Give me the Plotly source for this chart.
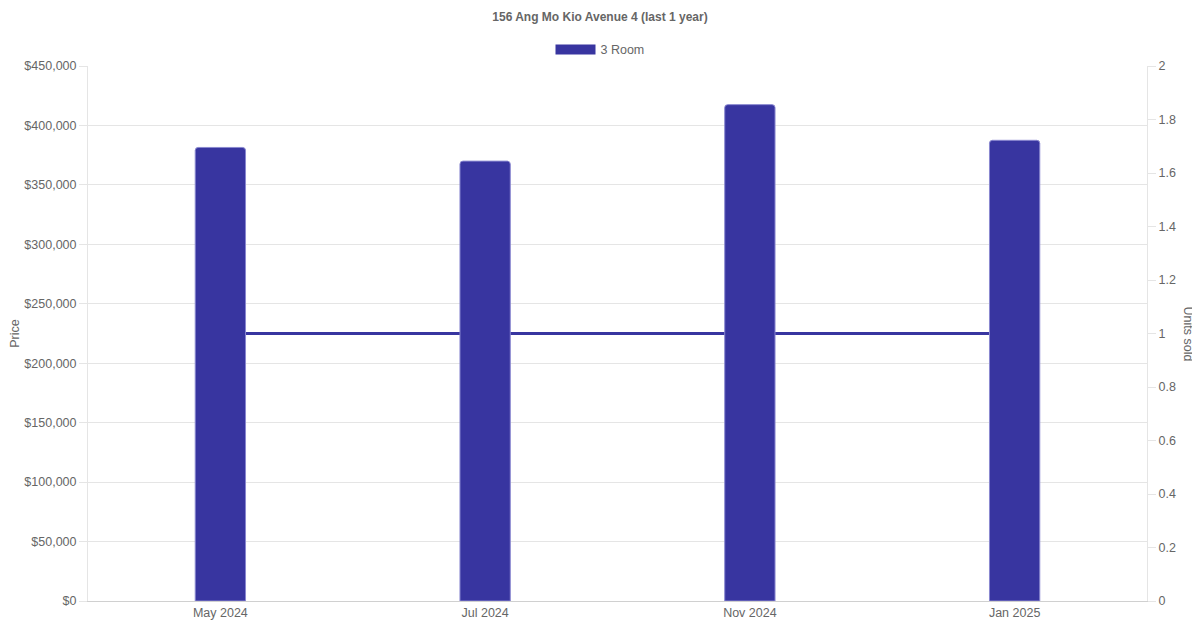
"""Bar + line chart: resale prices and units sold for a block"""
import plotly.graph_objs as go

# data
months = ['May 2024', 'Jul 2024', 'Nov 2024', 'Jan 2025']
prices = [381500, 370000, 417500, 387500]
units_sold = [1, 1, 1, 1]
price_ticks = list(range(0, 450001, 50000))
price_labels = ['$' + format(v, ',') for v in price_ticks]
unit_ticks = [0, 0.2, 0.4, 0.6, 0.8, 1, 1.2, 1.4, 1.6, 1.8, 2]
unit_labels = ['0', '0.2', '0.4', '0.6', '0.8', '1', '1.2', '1.4', '1.6', '1.8', '2']

purple = '#3835a0'
grey = '#666666'
grid = '#e5e5e5'

# page body has an 8px margin, so the figure is 8px smaller and margins shifted
W, H = 1192, 622
center_x = (592 - 80) / (W - 80 - 53)

# units sold line sits on the base axis so bars (overlay axis) draw on top
line = go.Scatter(x=months, y=units_sold, mode='lines', yaxis='y',
                  line=dict(color=purple, width=3), showlegend=False,
                  hoverinfo='skip')

bars = go.Bar(x=months, y=prices, yaxis='y2', width=0.19,
              marker=dict(color=purple, line=dict(color='#8a88d0', width=1)),
              showlegend=False)

# legend entry drawn as a wide swatch
legend_item = go.Scatter(x=[None], y=[None], mode='lines', name='3 Room',
                         line=dict(color=purple, width=12))

layout = go.Layout(
    width=W, height=H,
    paper_bgcolor='white', plot_bgcolor='white',
    font=dict(family='Liberation Sans, Arial, sans-serif', size=12, color=grey),
    title=dict(text='<b>156 Ang Mo Kio Avenue 4 (last 1 year)</b>',
               x=center_x, xanchor='center', xref='paper', yref='container',
               y=1 - 9 / H, yanchor='middle',
               font=dict(size=12, color=grey)),
    margin=dict(l=80, r=53, t=58, b=29, autoexpand=False),
    barcornerradius=3,
    legend=dict(orientation='h', x=center_x, xanchor='center', y=1.03,
                yanchor='middle', font=dict(size=12.5, color=grey),
                itemwidth=40, bgcolor='rgba(0,0,0,0)'),
    xaxis=dict(type='category', showgrid=False, showline=True,
               linecolor='#d0d0d0', linewidth=1, ticks='', automargin=False,
               tickfont=dict(size=12.5, color=grey), zeroline=False),
    yaxis=dict(side='right', range=[0, 2], tickvals=unit_ticks,
               ticktext=unit_labels, showgrid=False, zeroline=False,
               showline=True, linecolor=grid, ticks='outside', ticklen=8,
               tickcolor=grid, automargin=False,
               tickfont=dict(size=12.5, color=grey)),
    yaxis2=dict(side='left', overlaying='y', range=[0, 450000],
                tickvals=price_ticks, ticktext=price_labels,
                showgrid=True, gridcolor=grid, zeroline=False,
                showline=True, linecolor=grid, ticks='outside', ticklen=8,
                tickcolor=grid, automargin=False,
                tickfont=dict(size=12.5, color=grey),
                title=dict(text='Price', standoff=3,
                           font=dict(size=12.5, color=grey))),
    annotations=[dict(text='Units sold', textangle=90, xref='paper',
                      yref='paper', x=1.0, xanchor='center', xshift=41,
                      y=0.5, showarrow=False,
                      font=dict(size=12.5, color=grey))],
)

fig = go.Figure(data=[line, bars, legend_item], layout=layout)
fig.write_html('out.html')
